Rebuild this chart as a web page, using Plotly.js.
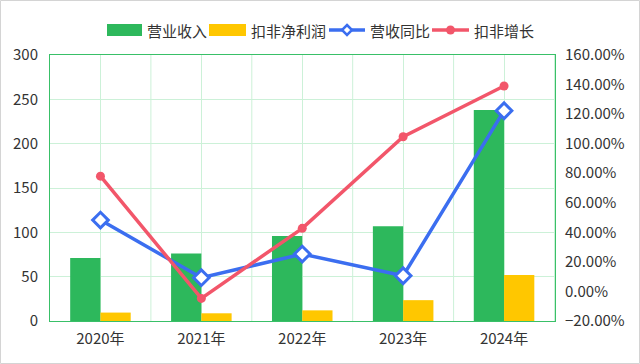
<!DOCTYPE html>
<html><head><meta charset="utf-8">
<script src="https://cdn.plot.ly/plotly-3.0.1.min.js"></script>
<style>html,body{margin:0;padding:0;background:#fff}#c{width:640px;height:364px}</style>
</head><body><div id="c"></div>
<script>
const categories = ["2020年","2021年","2022年","2023年","2024年"];
const revenue = [71, 76, 96, 107, 238];
const netProfit = [9.5, 8.7, 12, 23.5, 52];
const revenueYoY = [48.3, 9.3, 25.3, 10.6, 122.3];
const profitGrowth = [78, -4.7, 42.7, 104.7, 139];
const seriesNames = ["营业收入","扣非净利润","营收同比","扣非增长"];
const seriesColors = ["#2db85c","#ffc700","#3b6ef0","#f2566a"];

const fontFam = "'Noto Sans CJK SC', 'Noto Sans', sans-serif";
const gridC = "#ccf1d8";
const axC = "#39c068";

const traces = [
  {type:"bar", name:seriesNames[0], x:categories, y:revenue, marker:{color:seriesColors[0]}, yaxis:"y", showlegend:false},
  {type:"bar", name:seriesNames[1], x:categories, y:netProfit, marker:{color:seriesColors[1]}, yaxis:"y", showlegend:false},
  {type:"scatter", mode:"lines+markers", name:seriesNames[2], x:categories, y:revenueYoY, yaxis:"y2", showlegend:false,
   line:{color:seriesColors[2], width:3.5}, marker:{symbol:"diamond", size:12, color:"#fff", line:{color:seriesColors[2], width:3}}},
  {type:"scatter", mode:"lines+markers", name:seriesNames[3], x:categories, y:profitGrowth, yaxis:"y2", showlegend:false,
   line:{color:seriesColors[3], width:3.5}, marker:{symbol:"circle", size:9, color:seriesColors[3]}}
];

// pixel helpers for the hand-drawn legend (plot area: x 50..555, y 55..321)
const PX = p => (p-50)/505, PY = p => (321-p)/266;

const shapes = [
  {type:"rect", xref:"paper", yref:"paper", x0:PX(0.5), x1:PX(639.5), y0:PY(363.5), y1:PY(0.5), line:{color:"#d4d4d4", width:1}, layer:"below"}
];
for (let i=0;i<categories.length;i++){
  shapes.push({type:"line", xref:"x", yref:"paper", x0:i+0.5, x1:i+0.5, y0:0, y1:1, line:{color:gridC, width:1}, layer:"below"});
}
const legY = 30;
const legItems = [
  {kind:"rect", x0:107, x1:142, tx:145},
  {kind:"rect", x0:209, x1:246, tx:249},
  {kind:"line", x0:329, x1:365, tx:368},
  {kind:"line", x0:432, x1:469, tx:472}
];
const annotations = [];
legItems.forEach((it,i)=>{
  const c = seriesColors[i];
  if (it.kind==="rect") {
    shapes.push({type:"rect", xref:"paper", yref:"paper", x0:PX(it.x0), x1:PX(it.x1), y0:PY(legY+6), y1:PY(legY-6), fillcolor:c, line:{width:0}});
  } else {
    shapes.push({type:"line", xref:"paper", yref:"paper", x0:PX(it.x0), x1:PX(it.x1), y0:PY(legY), y1:PY(legY), line:{color:c, width:3.5}});
  }
  annotations.push({xref:"paper", yref:"paper", x:PX(it.tx), y:PY(legY), xanchor:"left", yanchor:"middle", showarrow:false,
    text:seriesNames[i], font:{family:fontFam, size:15, color:"#333"}});
});
const mx2 = (legItems[2].x0+legItems[2].x1)/2, mx3 = (legItems[3].x0+legItems[3].x1)/2;
shapes.push({type:"path", xref:"paper", yref:"paper",
  path:`M ${PX(mx2)},${PY(legY-5)} L ${PX(mx2+5)},${PY(legY)} L ${PX(mx2)},${PY(legY+5)} L ${PX(mx2-5)},${PY(legY)} Z`,
  fillcolor:"#fff", line:{color:seriesColors[2], width:2.5}});
shapes.push({type:"circle", xref:"paper", yref:"paper", x0:PX(mx3-4.5), x1:PX(mx3+4.5), y0:PY(legY+4.5), y1:PY(legY-4.5),
  fillcolor:seriesColors[3], line:{width:0}});

const layout = {
  width:640, height:364,
  margin:{l:50, r:85, t:55, b:43},
  paper_bgcolor:"#fff", plot_bgcolor:"#fff",
  font:{family:fontFam, size:15, color:"#333"},
  barmode:"group", bargap:0.4, bargroupgap:0,
  showlegend:false,
  xaxis:{type:"category", showgrid:true, gridcolor:gridC, showline:true, linecolor:axC, linewidth:1, mirror:true,
         ticks:"", tickfont:{size:15}, ticklabelstandoff:4},
  yaxis:{range:[0,300], dtick:50, showgrid:true, gridcolor:gridC, showline:true, linecolor:axC, zeroline:false,
         ticks:"", tickfont:{size:15}, ticklabelstandoff:8},
  yaxis2:{overlaying:"y", side:"right", range:[-20,160], dtick:20, tickformat:".2f", ticksuffix:"%",
          showgrid:false, zeroline:false, showline:true, linecolor:axC, ticks:"", tickfont:{size:15}, ticklabelstandoff:6},
  shapes:shapes,
  annotations:annotations
};
Plotly.newPlot("c", traces, layout, {displayModeBar:false, staticPlot:true});
</script>
</body></html>
